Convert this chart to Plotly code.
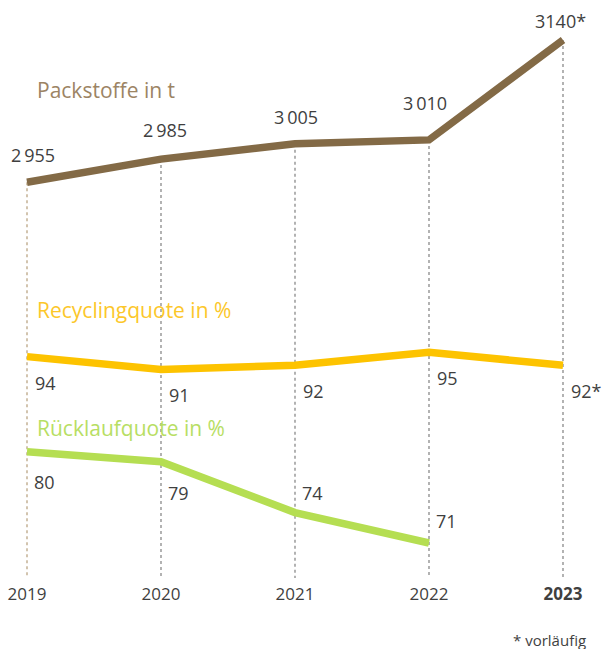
import plotly.graph_objects as go

years = [2019, 2020, 2021, 2022, 2023]
year_labels = ["2019", "2020", "2021", "2022", "<b>2023</b>"]

packstoffe = [2955, 2985, 3005, 3010, 3140]
packstoffe_labels = ["2\u2009955", "2\u2009985", "3\u2009005", "3\u2009010", "3140*"]

recycling = [94, 91, 92, 95, 92]
recycling_labels = ["94", "91", "92", "95", "92*"]

ruecklauf_years = [2019, 2020, 2021, 2022]
ruecklauf = [80, 79, 74, 71]
ruecklauf_labels = ["80", "79", "74", "71"]

# label placement (style only)
pack_label_shift = [27, 29, 27, 37, 19]
pack_label_xshift = [6, 4, 1, -4, -3]
rue_label_shift = [-30, -31, 20, 22]

C_PACK = "#836a46"
C_PACK_TITLE = "#9c8464"
C_REC = "#fdc300"
C_REC_TITLE = "#fcc72a"
C_RUE = "#b5de52"
C_RUE_TITLE = "#b7de63"
C_TEXT = "#3f3f3f"
FONT = "Open Sans"

R_PACK = [2440.3, 3191.9]
R_REC = [42.28, 177.33]
R_RUE = [67.55, 124.50]

fig = go.Figure()

guide_colors = ["#b59d7a", "#808080", "#808080", "#808080", "#808080"]
for yr, v, col in zip(years, packstoffe, guide_colors):
    fig.add_trace(go.Scatter(
        x=[yr, yr], y=[v, R_PACK[0]], mode="lines",
        line=dict(color=col, width=1.2, dash="dot"),
        hoverinfo="skip", showlegend=False, yaxis="y"))

fig.add_trace(go.Scatter(x=years, y=packstoffe, mode="lines",
                         line=dict(color=C_PACK, width=7.5), yaxis="y",
                         showlegend=False, name="Packstoffe in t"))
fig.add_trace(go.Scatter(x=years, y=recycling, mode="lines",
                         line=dict(color=C_REC, width=7.5), yaxis="y2",
                         showlegend=False, name="Recyclingquote in %"))
fig.add_trace(go.Scatter(x=ruecklauf_years, y=ruecklauf, mode="lines",
                         line=dict(color=C_RUE, width=7.5), yaxis="y3",
                         showlegend=False, name="Rücklaufquote in %"))

ann = []
for yr, v, t, s, xs in zip(years, packstoffe, packstoffe_labels, pack_label_shift, pack_label_xshift):
    ann.append(dict(x=yr, y=v, xref="x", yref="y", text=t, showarrow=False,
                    xanchor="center", yanchor="middle", xshift=xs, yshift=s,
                    font=dict(family=FONT, size=18, color=C_TEXT)))
for yr, v, t in zip(years, recycling, recycling_labels):
    ann.append(dict(x=yr, y=v, xref="x", yref="y2", text=t, showarrow=False,
                    xanchor="left", yanchor="middle", xshift=6, yshift=-26,
                    font=dict(family=FONT, size=18, color=C_TEXT)))
for yr, v, t, s in zip(ruecklauf_years, ruecklauf, ruecklauf_labels, rue_label_shift):
    ann.append(dict(x=yr, y=v, xref="x", yref="y3", text=t, showarrow=False,
                    xanchor="left", yanchor="middle", xshift=5, yshift=s,
                    font=dict(family=FONT, size=18, color=C_TEXT)))

ann.append(dict(x=0.058, y=packstoffe[0], xref="paper", yref="y", yshift=92,
                text="Packstoffe in t", showarrow=False, xanchor="left",
                yanchor="middle", font=dict(family=FONT, size=21, color=C_PACK_TITLE)))
ann.append(dict(x=0.058, y=recycling[0], xref="paper", yref="y2", yshift=47,
                text="Recyclingquote in %", showarrow=False, xanchor="left",
                yanchor="middle", font=dict(family=FONT, size=21, color=C_REC_TITLE)))
ann.append(dict(x=0.058, y=ruecklauf[0], xref="paper", yref="y3", yshift=24,
                text="Rücklaufquote in %", showarrow=False, xanchor="left",
                yanchor="middle", font=dict(family=FONT, size=21, color=C_RUE_TITLE)))

ann.append(dict(x=1, y=0, xref="paper", yref="paper", xanchor="right",
                yanchor="middle", xshift=-15, yshift=-62, text="* vorläufig",
                showarrow=False, font=dict(family=FONT, size=15, color=C_TEXT)))

hidden = dict(visible=False, fixedrange=True, domain=[0, 1])
fig.update_layout(
    width=603, height=649,
    margin=dict(l=0, r=0, t=0, b=71),
    paper_bgcolor="white", plot_bgcolor="white",
    font=dict(family=FONT, color=C_TEXT),
    xaxis=dict(range=[2019 - 27 / 134, 2019 + 576 / 134], tickvals=years,
               ticktext=year_labels, showgrid=False, zeroline=False,
               showline=False, ticks="", ticklabelstandoff=4, fixedrange=True,
               tickfont=dict(family=FONT, size=17, color=C_TEXT)),
    yaxis=dict(range=R_PACK, **hidden),
    yaxis2=dict(range=R_REC, overlaying="y", **hidden),
    yaxis3=dict(range=R_RUE, overlaying="y", **hidden),
    annotations=ann,
    showlegend=False,
)

fig.write_html("out.html", config={"displayModeBar": False},
               post_script="document.body.style.margin='0';")
